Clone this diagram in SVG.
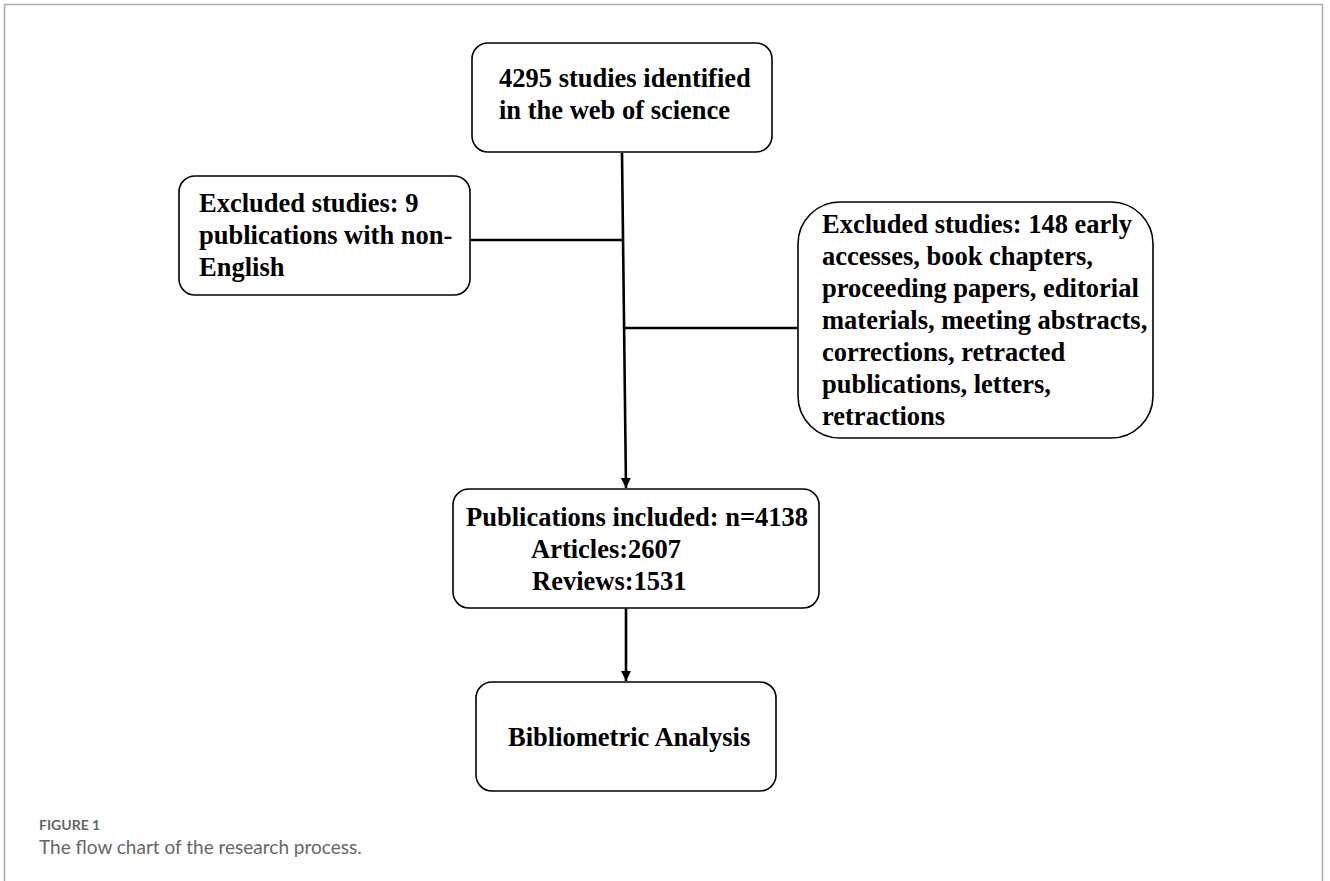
<svg xmlns="http://www.w3.org/2000/svg" width="1330" height="881" viewBox="0 0 1330 881">
<style>
.box{fill:#fff;stroke:#000;stroke-width:1.6}
.t{font-family:"Liberation Serif","Times New Roman",serif;font-weight:bold;font-size:26.5px;fill:#000}
.ln{stroke:#000;stroke-width:2.6;fill:none}
.cap1{font-family:Lato,"Open Sans",sans-serif;font-size:14px;font-weight:bold;fill:#666}
.cap2{font-family:Lato,"Open Sans",sans-serif;font-size:19px;fill:#666}
</style>
<defs>
<marker id="arr" viewBox="0 0 10 10" refX="10" refY="5" markerWidth="4" markerHeight="4.5" orient="auto" markerUnits="strokeWidth">
<path d="M0,0 L10,5 L0,10 z" fill="#000"/>
</marker>
</defs>
<rect x="4.5" y="4.5" width="1318" height="880" fill="#fff" stroke="#aaa" stroke-width="1.5"/>
<g id="connectors">
<line class="ln" x1="622" y1="153" x2="626" y2="488" marker-end="url(#arr)"/>
<line class="ln" x1="470" y1="240" x2="623" y2="240"/>
<line class="ln" x1="625" y1="328" x2="798" y2="328"/>
<line class="ln" x1="626" y1="608" x2="626" y2="681" marker-end="url(#arr)"/>
</g>
<g id="n1">
<rect class="box" x="472" y="43" width="300" height="109" rx="16"/>
<text class="t" x="499" y="87">4295 studies identified</text>
<text class="t" x="499" y="119">in the web of science</text>
</g>
<g id="n2">
<rect class="box" x="179" y="176" width="291" height="119" rx="16"/>
<text class="t" x="199" y="212">Excluded studies: 9</text>
<text class="t" x="199" y="244">publications with non-</text>
<text class="t" x="199" y="276">English</text>
</g>
<g id="n3">
<rect class="box" x="798" y="202" width="355" height="236" rx="42"/>
<text class="t" x="822" y="233">Excluded studies: 148 early</text>
<text class="t" x="822" y="265">accesses, book chapters,</text>
<text class="t" x="822" y="297">proceeding papers, editorial</text>
<text class="t" x="822" y="329">materials, meeting abstracts,</text>
<text class="t" x="822" y="361">corrections, retracted</text>
<text class="t" x="822" y="393">publications, letters,</text>
<text class="t" x="822" y="425">retractions</text>
</g>
<g id="n4">
<rect class="box" x="453" y="489" width="366" height="119" rx="16"/>
<text class="t" x="466" y="526">Publications included: n=4138</text>
<text class="t" x="531" y="558">Articles:2607</text>
<text class="t" x="532" y="590">Reviews:1531</text>
</g>
<g id="n5">
<rect class="box" x="476" y="682" width="300" height="109" rx="16"/>
<text class="t" x="508" y="746">Bibliometric Analysis</text>
</g>
<g id="caption">
<text class="cap1" x="39" y="830">FIGURE 1</text>
<text class="cap2" x="39" y="854">The flow chart of the research process.</text>
</g>
</svg>
